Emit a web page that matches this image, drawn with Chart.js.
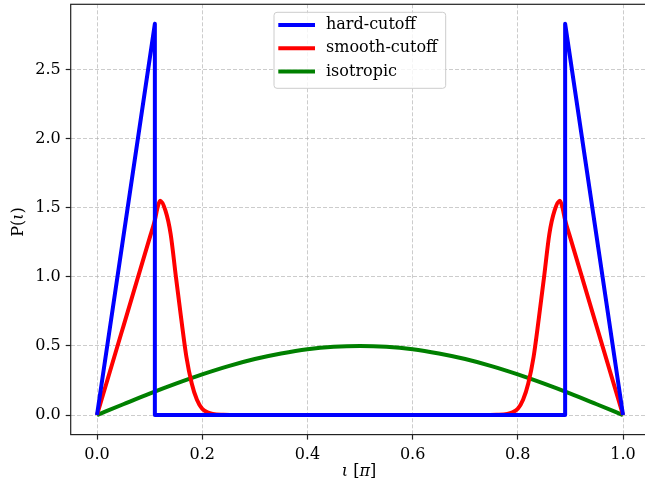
<!DOCTYPE html>
<html>
<head>
<meta charset="utf-8">
<script src="https://cdn.jsdelivr.net/npm/chart.js@4.4.1/dist/chart.umd.min.js"></script>
<style>
  html, body { margin: 0; padding: 0; background: #fff; overflow: hidden; }
  #wrap { width: 650px; height: 487px; }
</style>
</head>
<body>
<div id="wrap"><canvas id="chart" width="650" height="487"></canvas></div>
<script>
// Data (x in units of pi)
const iotaHard = [0, 0.11, 0.11, 0.89, 0.89, 1.0];
const pHard = [0, 2.83, 0, 0, 2.83, 0];

const iotaSmooth = [0, 0.05, 0.10, 0.11, 0.115, 0.12, 0.13, 0.14, 0.15, 0.16, 0.17, 0.18, 0.19, 0.20, 0.21, 0.22, 0.24, 0.27,
                    0.73, 0.76, 0.78, 0.79, 0.80, 0.81, 0.82, 0.83, 0.84, 0.85, 0.86, 0.87, 0.88, 0.885, 0.89, 0.90, 0.95, 1.0];
const pSmooth = [0, 0.64, 1.28, 1.41, 1.50, 1.55, 1.48, 1.31, 1.00, 0.70, 0.42, 0.23, 0.11, 0.045, 0.02, 0.008, 0.002, 0,
                 0, 0.002, 0.008, 0.02, 0.045, 0.11, 0.23, 0.42, 0.70, 1.00, 1.31, 1.48, 1.55, 1.50, 1.41, 1.28, 0.64, 0];

const iotaIso = [0, 0.05, 0.1, 0.15, 0.2, 0.25, 0.3, 0.35, 0.4, 0.45, 0.5, 0.55, 0.6, 0.65, 0.7, 0.75, 0.8, 0.85, 0.9, 0.95, 1.0];
const pIso = [0, 0.078, 0.155, 0.227, 0.294, 0.354, 0.405, 0.445, 0.476, 0.494, 0.5, 0.494, 0.476, 0.445, 0.405, 0.354, 0.294, 0.227, 0.155, 0.078, 0];

const xTicks = [0, 0.2, 0.4, 0.6, 0.8, 1.0];
const yTicks = [0, 0.5, 1.0, 1.5, 2.0, 2.5];

const seriesNames = ['hard-cutoff', 'smooth-cutoff', 'isotropic'];
const seriesColors = ['#0000ff', '#ff0000', '#008000'];

const FONT = { family: 'DejaVu Serif', size: 16 };
const fontStr = (italic) => (italic ? 'italic ' : '') + FONT.size + 'px "' + FONT.family + '"';

function toPoints(xs, ys) {
    return xs.map((x, i) => ({ x: x, y: ys[i] }));
}

// Text aus Stücken mit unterschiedlichem Stil, zentriert um (0,0)
function drawMixed(ctx, parts) {
    let total = 0;
    parts.forEach(p => { ctx.font = fontStr(p.it); p.w = ctx.measureText(p.t).width; total += p.w; });
    let x = -total / 2;
    parts.forEach(p => { ctx.font = fontStr(p.it); ctx.fillText(p.t, x, 0); x += p.w; });
}

// Rahmen (spines), Achsentitel und Legende
const framePlugin = {
    id: 'frame',
    afterDraw(chart) {
        const ctx = chart.ctx;
        const a = chart.chartArea;
        ctx.save();
        ctx.strokeStyle = '#222';
        ctx.lineWidth = 1.2;
        ctx.strokeRect(a.left, a.top, a.right - a.left, a.bottom - a.top);

        // axis titles
        ctx.fillStyle = '#000';
        ctx.textBaseline = 'middle';
        ctx.textAlign = 'left';
        ctx.save();
        ctx.translate(359, 472);
        drawMixed(ctx, [{ t: 'ι', it: true }, { t: ' [', it: false }, { t: 'π', it: true }, { t: ']', it: false }]);
        ctx.restore();
        ctx.save();
        ctx.translate(18.5, 222);
        ctx.rotate(-Math.PI / 2);
        drawMixed(ctx, [{ t: 'P(', it: false }, { t: 'ι', it: true }, { t: ')', it: false }]);
        ctx.restore();

        // legend box
        const bx = 274, by = 12.3, bw = 171.7, bh = 76, r = 3;
        ctx.beginPath();
        ctx.moveTo(bx + r, by);
        ctx.arcTo(bx + bw, by, bx + bw, by + bh, r);
        ctx.arcTo(bx + bw, by + bh, bx, by + bh, r);
        ctx.arcTo(bx, by + bh, bx, by, r);
        ctx.arcTo(bx, by, bx + bw, by, r);
        ctx.closePath();
        ctx.fillStyle = 'rgba(255,255,255,0.8)';
        ctx.fill();
        ctx.strokeStyle = '#cccccc';
        ctx.lineWidth = 1;
        ctx.stroke();

        ctx.font = fontStr(false);
        seriesNames.forEach((name, i) => {
            const y = 25 + i * 23.3;
            ctx.beginPath();
            ctx.moveTo(278.3, y);
            ctx.lineTo(315, y);
            ctx.strokeStyle = seriesColors[i];
            ctx.lineWidth = 4;
            ctx.lineCap = 'butt';
            ctx.stroke();
            ctx.fillStyle = '#000';
            ctx.fillText(name, 326, y);
        });
        ctx.restore();
    }
};

const gridCommon = {
    color: 'rgba(176,176,176,0.65)',
    lineWidth: 1,
    drawTicks: true,
    tickLength: 5,
    tickColor: '#222',
    tickWidth: 1.2,
    tickBorderDash: []
};

new Chart(document.getElementById('chart').getContext('2d'), {
    type: 'line',
    data: {
        datasets: [
            {
                label: seriesNames[0],
                data: toPoints(iotaHard, pHard),
                borderColor: seriesColors[0],
                borderWidth: 4,
                tension: 0,
                pointRadius: 0,
                borderJoinStyle: 'round',
                fill: false
            },
            {
                label: seriesNames[1],
                data: toPoints(iotaSmooth, pSmooth),
                borderColor: seriesColors[1],
                borderWidth: 4,
                cubicInterpolationMode: 'monotone',
                pointRadius: 0,
                borderJoinStyle: 'round',
                fill: false
            },
            {
                label: seriesNames[2],
                data: toPoints(iotaIso, pIso),
                borderColor: seriesColors[2],
                borderWidth: 4,
                cubicInterpolationMode: 'monotone',
                pointRadius: 0,
                borderJoinStyle: 'round',
                fill: false
            }
        ]
    },
    options: {
        responsive: false,
        animation: false,
        layout: { padding: { top: 4.3, right: 0.7, left: 0, bottom: 0 } },
        plugins: {
            legend: { display: false },
            tooltip: { enabled: false }
        },
        scales: {
            x: {
                type: 'linear',
                min: -0.05,
                max: 1.05,
                grid: gridCommon,
                border: { display: false, dash: [4, 2] },
                afterBuildTicks: s => { s.ticks = xTicks.map(v => ({ value: v })); },
                afterFit: s => { s.height = 52.4; s.paddingLeft = 0; s.paddingRight = 0; },
                ticks: {
                    color: '#000',
                    font: FONT,
                    padding: 6,
                    maxRotation: 0,
                    callback: v => v.toFixed(1)
                }
            },
            y: {
                type: 'linear',
                min: -0.1415,
                max: 2.9715,
                grid: gridCommon,
                border: { display: false, dash: [4, 2] },
                afterBuildTicks: s => { s.ticks = yTicks.map(v => ({ value: v })); },
                afterFit: s => { s.width = 70.7; s.paddingTop = 0; s.paddingBottom = 0; },
                ticks: {
                    color: '#000',
                    font: FONT,
                    padding: 5,
                    callback: v => v.toFixed(1)
                }
            }
        }
    },
    plugins: [framePlugin]
});
</script>
</body>
</html>
